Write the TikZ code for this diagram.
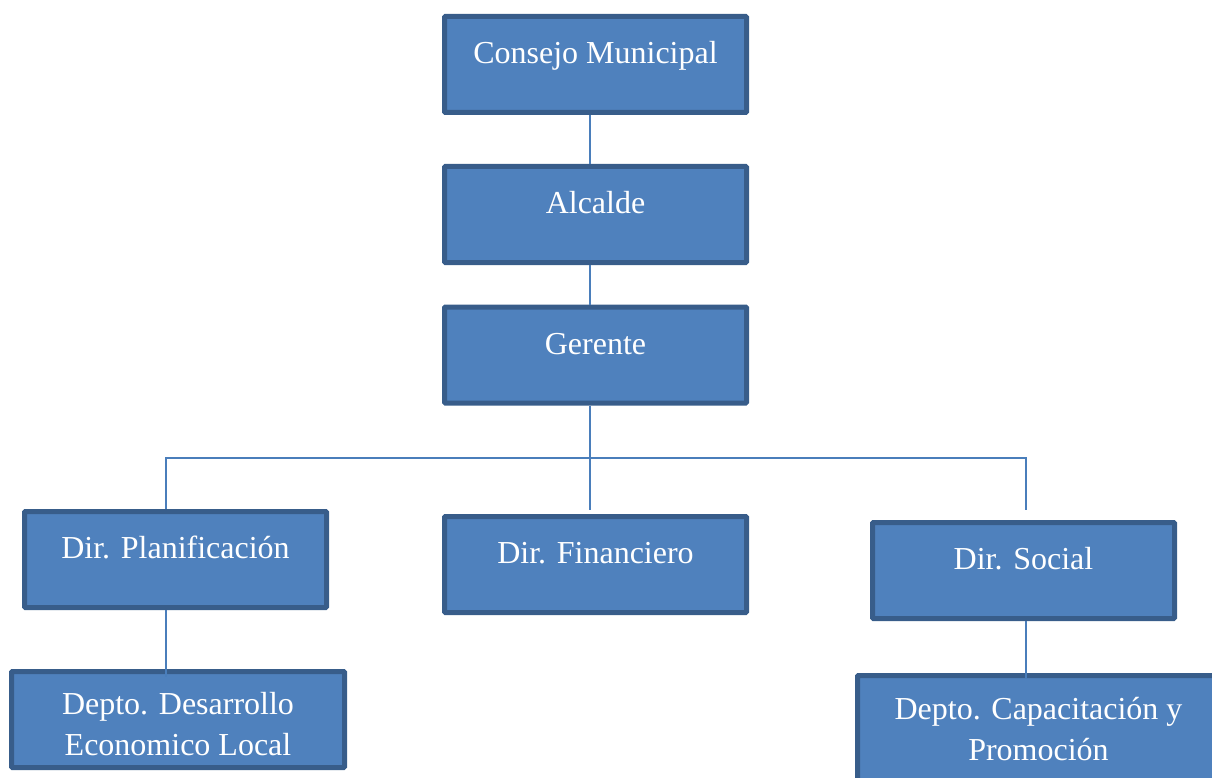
\documentclass[tikz,border=0pt]{standalone}
\usepackage{fontspec}
\setmainfont{Liberation Serif}
\usepackage{xcolor}
\definecolor{boxfill}{HTML}{4F81BD}
\definecolor{boxline}{HTML}{385D8A}
\definecolor{connline}{HTML}{4A7EBB}
\usetikzlibrary{positioning}

\begin{document}
\begin{tikzpicture}[x=1pt,y=-1pt,
  orgbox/.style={draw=boxline, fill=boxfill, line width=5, rounded corners=1,
    text=white, font=\fontsize{32}{41}\selectfont, align=center,
    inner xsep=0, inner ysep=0, minimum width=302},
  onel/.style={orgbox, text height=47, text depth=49},
  twol/.style={orgbox, text height=84, text depth=12},
  conn/.style={draw=connline, line width=2}]
\useasboundingbox (0,0) rectangle (1212,778);

% top chain
\node[onel] (consejo) at (595.5,64.5) {Consejo Municipal};
\node[onel] (alcalde) at (595.5,214.5) {Alcalde};
\node[onel] (gerente) at (595.5,355) {Gerente};

% directors
\node[onel] (planif) at (175.5,559.5) {Dir. Planificaci\'on};
\node[onel] (financ) at (595.5,564.5) {Dir. Financiero};
\node[onel] (social) at (1023.5,570.5) {Dir. Social};

% departments
\node[twol, minimum width=333] (desarrollo) at (178,719.5) {Depto. Desarrollo\\Economico Local};
\node[twol, minimum width=362, text height=85, text depth=27] (capacit) at (1038.5,731.5) {Depto. Capacitaci\'on y\\Promoci\'on};

\coordinate (ltop) at (166,458);
\coordinate (rtop) at (1026,458);
\coordinate (rend) at (1026,510);
\coordinate (gend) at (590,510);
\coordinate (dend) at (166,677);
\coordinate (send) at (1026,678);

\draw[conn] (consejo.south -| gend) -- (alcalde.north -| gend);
\draw[conn] (alcalde.south -| gend) -- (gerente.north -| gend);
\draw[conn] (gerente.south -| gend) -- (gend);
\draw[conn] (planif.north -| ltop) -- (ltop) -- (rtop) -- (rend);
\draw[conn] (planif.south -| ltop) -- (dend);
\draw[conn] (social.south -| send) -- (send);
\end{tikzpicture}
\end{document}
